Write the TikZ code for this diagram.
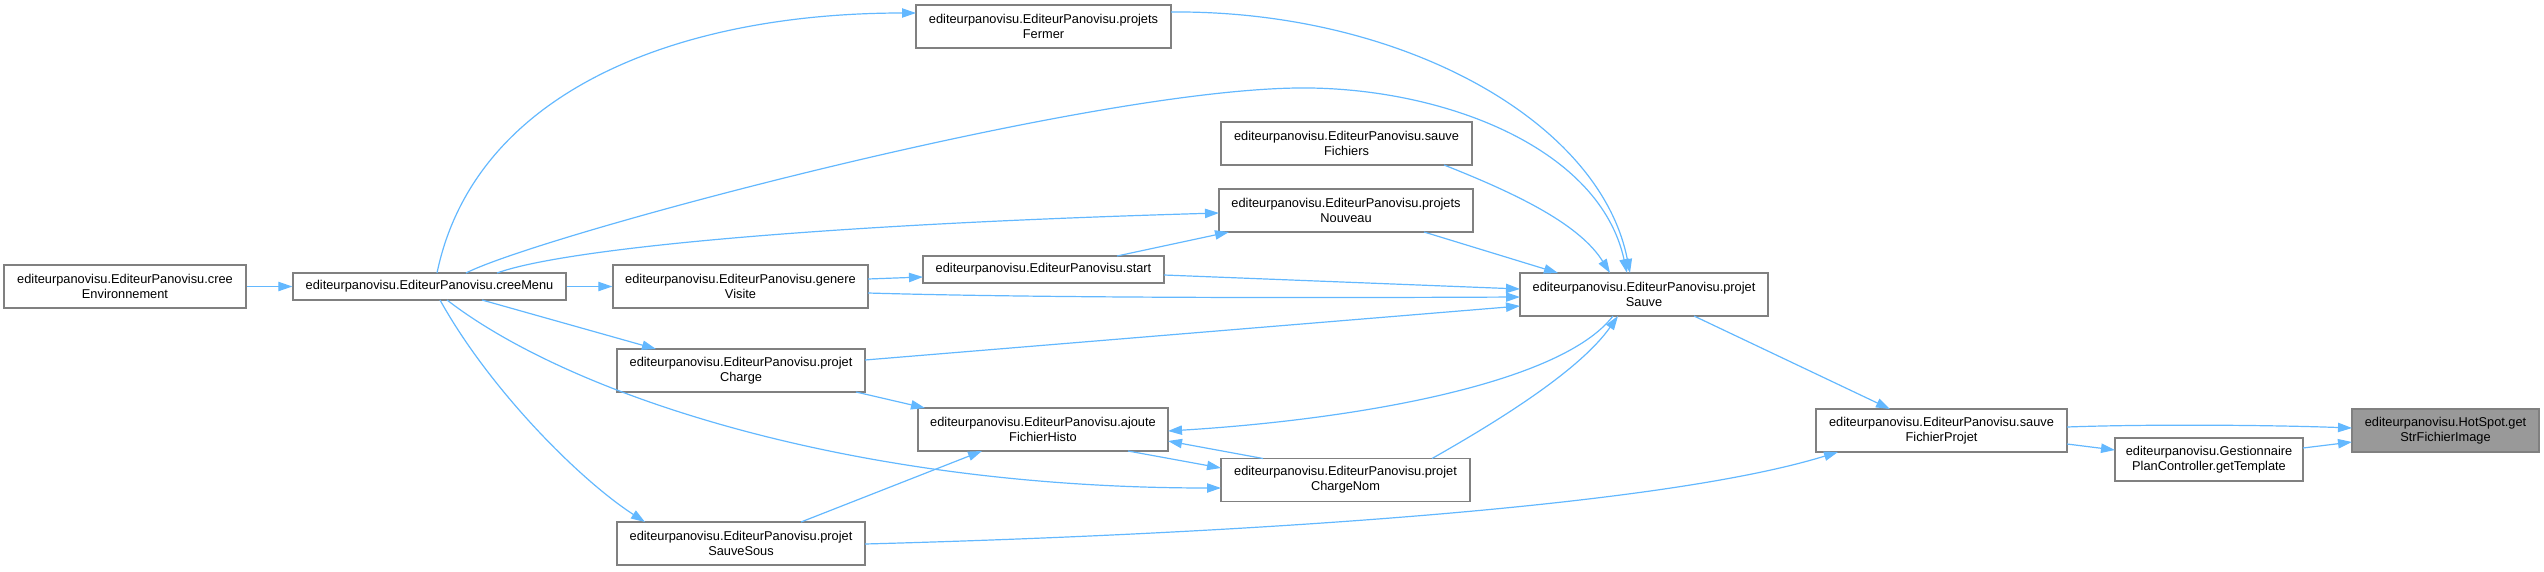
\documentclass[tikz,border=0pt]{standalone}
\usepackage{fontspec}
\setmainfont{Liberation Sans}
\usetikzlibrary{arrows.meta,calc}
\definecolor{edgec}{HTML}{63B8FF}
\definecolor{boxc}{HTML}{808080}
\definecolor{hotc}{HTML}{999999}
\tikzset{
 fn/.style={draw=boxc, line width=1pt, fill=white, align=center, inner sep=1pt,
   font=\fontsize{9.6}{11.5}\selectfont, minimum height=32.25pt},
 one/.style={minimum height=20.25pt},
 bw/.style={minimum width=#1*0.75pt},
 hl/.style={fill=hotc},
 call/.style={draw=edgec, line width=0.9pt, -{Triangle[length=10.5pt,width=7pt]}},
}
\begin{document}
\begin{tikzpicture}[x=0.75pt,y=-0.75pt]
\useasboundingbox (0,0) rectangle (2544,571);
% nodes
\node[fn,bw=242] (env) at (125,286.5) {editeurpanovisu.EditeurPanovisu.cree\\Environnement};
\node[fn,one,bw=273] (menu) at (429.5,286.5) {editeurpanovisu.EditeurPanovisu.creeMenu};
\node[fn,bw=255] (fermer) at (1043.5,26.5) {editeurpanovisu.EditeurPanovisu.projets\\Fermer};
\node[fn,bw=251] (sfich) at (1346.5,143.5) {editeurpanovisu.EditeurPanovisu.sauve\\Fichiers};
\node[fn,bw=254] (nouveau) at (1346,210.5) {editeurpanovisu.EditeurPanovisu.projets\\Nouveau};
\node[fn,bw=255] (genere) at (740.5,286.5) {editeurpanovisu.EditeurPanovisu.genere\\Visite};
\node[fn,one,bw=241] (start) at (1043.5,269.5) {editeurpanovisu.EditeurPanovisu.start};
\node[fn,bw=248] (charge) at (741,370.5) {editeurpanovisu.EditeurPanovisu.projet\\Charge};
\node[fn,bw=250] (ajoute) at (1043,429.5) {editeurpanovisu.EditeurPanovisu.ajoute\\FichierHisto};
\node[fn,bw=249] (chargenom) at (1345.5,480) {editeurpanovisu.EditeurPanovisu.projet\\ChargeNom};
\node[fn,bw=248] (sous) at (741,543.5) {editeurpanovisu.EditeurPanovisu.projet\\SauveSous};
\node[fn,bw=248] (sauve) at (1644,294.5) {editeurpanovisu.EditeurPanovisu.projet\\Sauve};
\node[fn,bw=251] (sfp) at (1941.5,430.5) {editeurpanovisu.EditeurPanovisu.sauve\\FichierProjet};
\node[fn,bw=188] (tmpl) at (2209,459.5) {editeurpanovisu.Gestionnaire\\PlanController.getTemplate};
\node[fn,hl,bw=187] (hot) at (2445.5,430.5) {editeurpanovisu.HotSpot.get\\StrFichierImage};
% edges
\draw[call] (env.east) -- (menu.west);
\draw[call] ($(menu)+(7.5,-13.5)$) .. controls (475,90) and (680,13) .. ($(fermer)+(-127.5,-13.5)$);
\draw[call] ($(fermer)+(127.5,-14.5)$) .. controls (1400,10) and (1600,120) .. ($(sauve)+(-14,-21.5)$);
\draw[call] ($(menu)+(36.5,-13.5)$) .. controls (540,235) and (1100,85) .. (1310,88)
   .. controls (1450,90) and (1600,150) .. ($(sauve)+(-17,-21.5)$);
\draw[call] ($(sfich)+(97.5,21.5)$) .. controls (1520,195) and (1580,225) .. ($(sauve)+(-34,-21.5)$);
\draw[call] ($(nouveau)+(78,21.5)$) -- ($(sauve)+(-86,-21.5)$);
\draw[call] (menu.east) -- (genere.west);
\draw[call] ($(menu)+(67.5,-13.5)$) .. controls (560,250) and (800,225) .. ($(nouveau)+(-127,2.5)$);
\draw[call] ($(menu)+(52.5,13.5)$) -- ($(charge)+(-85,-21.5)$);
\draw[call] ($(menu)+(17.5,13.5)$) .. controls (570,395) and (850,488) .. ($(chargenom)+(-124.5,8)$);
\draw[call] ($(menu)+(10.5,13.5)$) .. controls (490,390) and (580,480) .. ($(sous)+(-96,-21.5)$);
\draw[call] ($(genere)+(127.5,-7.5)$) -- ($(start)+(-120.5,7.5)$);
\draw[call] ($(genere)+(127.5,6.5)$) .. controls (1040,298) and (1300,298) .. ($(sauve)+(-124,2.5)$);
\draw[call] ($(start)+(73.5,-13.5)$) -- ($(nouveau)+(-117,21.5)$);
\draw[call] ($(start)+(120.5,5.5)$) -- ($(sauve)+(-124,-5.5)$);
\draw[call] ($(charge)+(124,-10.5)$) -- ($(sauve)+(-124,11.5)$);
\draw[call] ($(charge)+(115,21.5)$) -- ($(ajoute)+(-118,-21.5)$);
\draw[call] ($(ajoute)+(85,21.5)$) -- ($(chargenom)+(-124.5,-12)$);
\draw[call] ($(chargenom)+(-82.5,-21.5)$) -- ($(ajoute)+(125,11.5)$);
\draw[call] ($(sauve)+(-31,21.5)$) .. controls (1560,385) and (1350,420) .. ($(ajoute)+(125,1.5)$);
\draw[call] ($(chargenom)+(86.5,-21.5)$) .. controls (1500,420) and (1580,370) .. ($(sauve)+(-26,21.5)$);
\draw[call] ($(sous)+(60,-21.5)$) -- ($(ajoute)+(-61,21.5)$);
\draw[call] ($(sous)+(124,0.5)$) .. controls (1200,535) and (1650,510) .. ($(sfp)+(-103.5,21.5)$);
\draw[call] ($(sauve)+(50,21.5)$) -- ($(sfp)+(-51.5,-21.5)$);
\draw[call] ($(sfp)+(125.5,-3.5)$) .. controls (2150,424) and (2270,425) .. ($(hot)+(-93.5,-2.5)$);
\draw[call] ($(sfp)+(125.5,13.5)$) -- ($(tmpl)+(-94,-9.5)$);
\draw[call] ($(tmpl)+(94,-11.5)$) -- ($(hot)+(-93.5,11.5)$);
\end{tikzpicture}
\end{document}
